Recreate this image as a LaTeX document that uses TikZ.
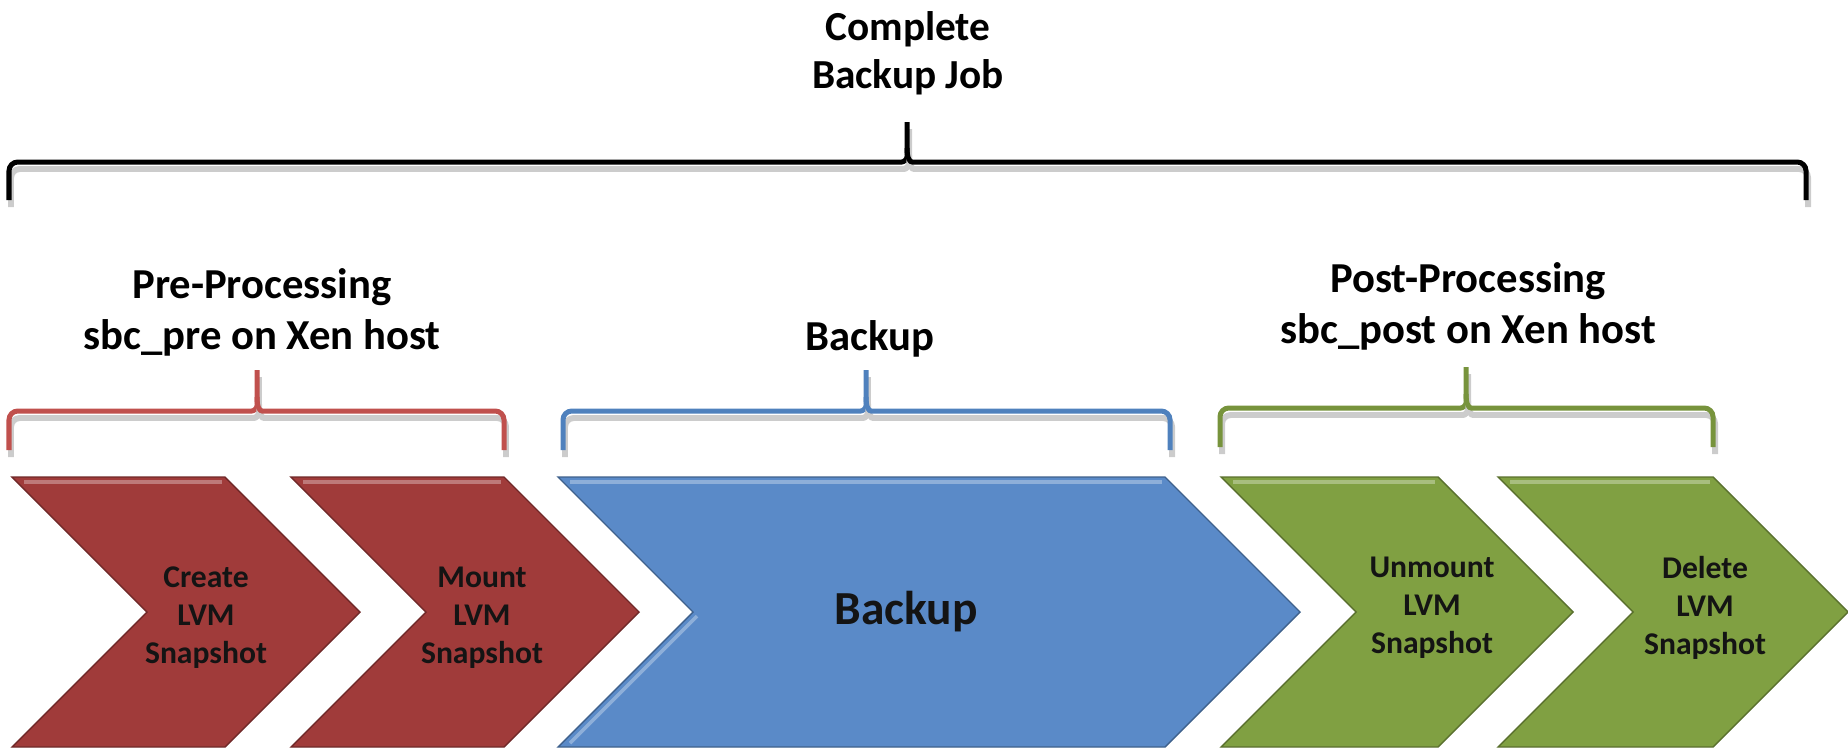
\documentclass[tikz,border=0pt]{standalone}
\usepackage{fontspec}
\setmainfont{Carlito}
\definecolor{prered}{HTML}{A03B3A}
\definecolor{prebrace}{HTML}{C0504D}
\definecolor{bakblue}{HTML}{5A8AC8}
\definecolor{bakbrace}{HTML}{4F81BD}
\definecolor{postgreen}{HTML}{80A042}
\definecolor{postbrace}{HTML}{77933C}

\begin{document}
\begin{tikzpicture}[
    x=0.02cm, y=-0.02cm,
    heading/.style={
        font=\bfseries\fontsize{24.3}{29}\selectfont,
        align=center
    },
    steptext/.style={
        font=\bfseries\fontsize{18}{21.6}\selectfont,
        text=black!92,
        align=center
    },
    curly/.style={
        draw=#1,
        line width=2.85pt,
        rounded corners=5pt,
        preaction={draw=black!20, line width=3.4pt,
            transform canvas={shift={(0.04cm,-0.14cm)}}}
    },
    chevron/.style={
        fill=#1,
        draw=#1!70!black,
        line width=0.8pt
    },
    bevel/.style={
        draw=#1!60!white,
        line width=2pt,
        opacity=0.8
    }
]
\useasboundingbox (0,0) rectangle (1848,748);

% Chevrons
\draw[chevron=prered] (12,477) -- (225,477) -- (360,612) -- (225,747) -- (12,747) -- (147,612) -- cycle;
\draw[chevron=prered] (291,477) -- (504,477) -- (639,612) -- (504,747) -- (291,747) -- (426,612) -- cycle;
\draw[chevron=bakblue] (558,477) -- (1165,477) -- (1300,612) -- (1165,747) -- (558,747) -- (693,612) -- cycle;
\draw[chevron=postgreen] (1221,477) -- (1438,477) -- (1573,612) -- (1438,747) -- (1221,747) -- (1356,612) -- cycle;
\draw[chevron=postgreen] (1498,477) -- (1713,477) -- (1848,612) -- (1713,747) -- (1498,747) -- (1633,612) -- cycle;

% Bevel highlights
\draw[bevel=prered] (24,482) -- (222,482);
\draw[bevel=prered] (303,482) -- (501,482);
\draw[bevel=bakblue] (570,482) -- (1162,482);
\draw[bevel=bakblue] (697,616) -- (570,743);
\draw[bevel=postgreen] (1233,482) -- (1435,482);
\draw[bevel=postgreen] (1510,482) -- (1710,482);

% Step texts
\node[steptext] (create) at (206,618) {Create\\LVM\\Snapshot};
\node[steptext] (mount) at (482,618) {Mount\\LVM\\Snapshot};
\node[steptext, font=\bfseries\fontsize{27}{32}\selectfont] (backup) at (906,612) {Backup};
\node[steptext] (unmount) at (1432,608) {Unmount\\LVM\\Snapshot};
\node[steptext] (delete) at (1705,608) {Delete\\LVM\\Snapshot};

% Braces
\draw[curly=black] (9,200) |- (893,162) .. controls (904,162) and (907,159) .. (907,148) -- (907,122);
\draw[curly=black] (1806,200) |- (921,162) .. controls (910,162) and (907,159) .. (907,148);
\draw[curly=prebrace] (9,450) |- (243,411) .. controls (254,411) and (257,408) .. (257,397) -- (257,370);
\draw[curly=prebrace] (504,450) |- (271,411) .. controls (260,411) and (257,408) .. (257,397);
\draw[curly=bakbrace] (563,450) |- (852,411) .. controls (863,411) and (866,408) .. (866,397) -- (866,370);
\draw[curly=bakbrace] (1170,450) |- (880,411) .. controls (869,411) and (866,408) .. (866,397);
\draw[curly=postbrace] (1220,447) |- (1452,408) .. controls (1463,408) and (1466,405) .. (1466,394) -- (1466,367);
\draw[curly=postbrace] (1713,447) |- (1480,408) .. controls (1469,408) and (1466,405) .. (1466,394);

% Labels
\node[heading, font=\bfseries\fontsize{23.5}{27.5}\selectfont] (job) at (908,53) {Complete\\Backup Job};
\node[heading] (pre) at (262,312) {Pre-Processing\\sbc\_pre on Xen host};
\node[heading] (bak) at (870,339) {Backup};
\node[heading] (post) at (1468,306) {Post-Processing\\sbc\_post on Xen host};

\end{tikzpicture}
\end{document}
